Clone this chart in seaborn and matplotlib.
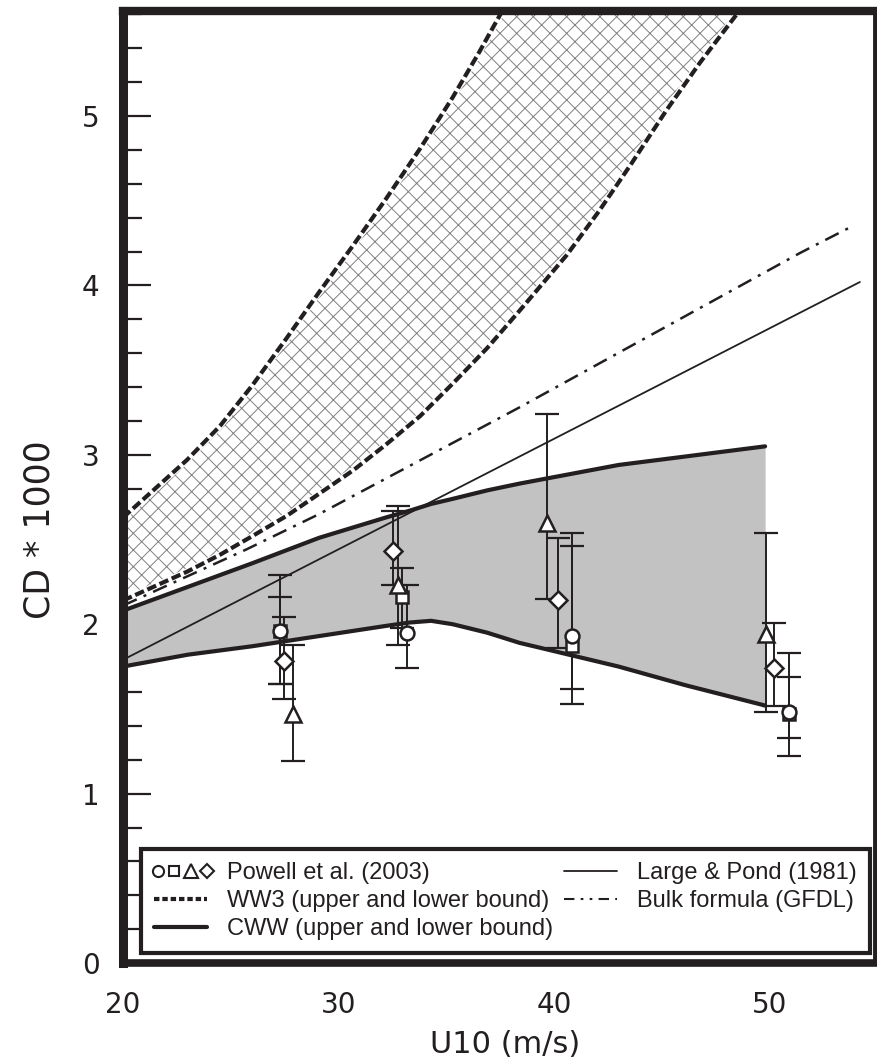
import numpy as np
import pandas as pd
import matplotlib
matplotlib.use("Agg")
import matplotlib.pyplot as plt
import seaborn as sns
from matplotlib.lines import Line2D
from matplotlib.legend_handler import HandlerBase
from matplotlib.ticker import MultipleLocator

# ---------------- data ----------------
ww3_up_x = [20.0, 21.4, 22.97, 24.5, 26.0, 27.6, 29.1, 30.7, 32.2, 33.8, 35.3, 36.5, 37.6]
ww3_up_y = [2.63, 2.79, 2.97, 3.17, 3.41, 3.69, 3.96, 4.24, 4.51, 4.81, 5.11, 5.37, 5.62]

ww3_lo_x = [20.0, 21.4, 22.97, 24.5, 26.0, 27.6, 29.1, 30.7, 32.2, 33.8, 35.3, 36.9, 38.4,
            40.6, 42.1, 43.6, 45.2, 46.75, 48.6]
ww3_lo_y = [2.14, 2.22, 2.31, 2.41, 2.52, 2.64, 2.77, 2.91, 3.06, 3.23, 3.42, 3.63, 3.85,
            4.18, 4.44, 4.72, 5.03, 5.31, 5.62]

gfdl_x = [20.0, 25.7, 29.1, 32.2, 35.3, 38.4, 51.4, 53.7]
gfdl_y = [2.11, 2.44, 2.65, 2.86, 3.07, 3.28, 4.19, 4.34]

lp_x = [20.0, 54.2]
lp_y = [1.79, 4.02]

cww_x = [20.0, 23.0, 26.0, 29.1, 32.2, 33.3, 34.3, 35.3, 36.9, 38.4, 43.0, 46.1, 49.8]
cww_up = [2.08, 2.22, 2.36, 2.51, 2.63, 2.67, 2.71, 2.74, 2.79, 2.83, 2.94, 2.99, 3.05]
cww_lo = [1.75, 1.82, 1.87, 1.93, 1.99, 2.01, 2.02, 2.00, 1.95, 1.89, 1.75, 1.64, 1.52]

# Powell et al. (2003): x, value, lower bar end, upper bar end
circ_x = [27.28, 33.16, 40.82, 50.92]
circ_y = [1.96, 1.95, 1.93, 1.48]
circ_lo = [1.65, 1.74, 1.62, 1.33]
circ_hi = [2.29, 2.23, 2.46, 1.69]

sq_x = [27.30, 32.93, 40.82, 50.92]
sq_y = [1.96, 2.16, 1.87, 1.47]
sq_lo = [1.65, 1.98, 1.53, 1.22]
sq_hi = [2.16, 2.33, 2.54, 1.83]

tri_x = [27.88, 32.75, 39.70, 49.86]
tri_y = [1.47, 2.23, 2.60, 1.94]
tri_lo = [1.19, 1.88, 2.15, 1.48]
tri_hi = [1.88, 2.70, 3.24, 2.54]

dia_x = [27.46, 32.52, 40.21, 50.23]
dia_y = [1.78, 2.43, 2.14, 1.74]
dia_lo = [1.56, 2.23, 1.86, 1.52]
dia_hi = [2.04, 2.67, 2.51, 2.01]

x_ticks = [20, 30, 40, 50]
y_ticks = [0, 1, 2, 3, 4, 5]

# ---------------- style ----------------
sns.set_theme(style="white")
INK = "#231f20"
plt.rcParams["font.family"] = ["DejaVu Sans"]
plt.rcParams["hatch.linewidth"] = 0.7

fig = plt.figure(figsize=(8.77, 10.64), dpi=100)
ax = fig.add_axes([0.1403, 0.0949, 0.8574, 0.8948])
ax.set_facecolor("white")

# WW3 hatched band
poly_x = np.concatenate([ww3_lo_x, ww3_up_x[::-1]])
poly_y = np.concatenate([ww3_lo_y, ww3_up_y[::-1]])
ax.fill(poly_x, poly_y, facecolor="white", edgecolor="#808080", hatch="xx",
        linewidth=0, zorder=1)

# CWW gray band
ax.fill_between(cww_x, cww_lo, cww_up, color="#c2c2c2", linewidth=0, zorder=2)

# lines via seaborn
df_up = pd.DataFrame({"u": ww3_up_x, "cd": ww3_up_y})
df_lo = pd.DataFrame({"u": ww3_lo_x, "cd": ww3_lo_y})
for d in (df_up, df_lo):
    sns.lineplot(data=d, x="u", y="cd", ax=ax, color="white", lw=4.6, zorder=3)
    sns.lineplot(data=d, x="u", y="cd", ax=ax, color=INK, lw=3.0,
                 linestyle=(0, (2.3, 0.9)), zorder=4)

sns.lineplot(x=gfdl_x, y=gfdl_y, ax=ax, color=INK, lw=1.8,
             linestyle=(0, (6, 3, 1.2, 3)), zorder=4)
sns.lineplot(x=lp_x, y=lp_y, ax=ax, color=INK, lw=1.3, zorder=4)
sns.lineplot(x=cww_x, y=cww_up, ax=ax, color=INK, lw=3.0, zorder=5)
sns.lineplot(x=cww_x, y=cww_lo, ax=ax, color=INK, lw=3.0, zorder=5)

# Powell et al. data with error bars
series = [
    (sq_x, sq_y, sq_lo, sq_hi, "s", 8.5),
    (circ_x, circ_y, circ_lo, circ_hi, "o", 10),
    (tri_x, tri_y, tri_lo, tri_hi, "^", 11),
    (dia_x, dia_y, dia_lo, dia_hi, "D", 9),
]
for xs, ys, lo, hi, mk, ms in series:
    ys = np.asarray(ys)
    yerr = [ys - np.asarray(lo), np.asarray(hi) - ys]
    ax.errorbar(xs, ys, yerr=yerr, fmt="none", ecolor=INK, elinewidth=1.4,
                capsize=8.5, capthick=1.6, zorder=6)
for xs, ys, lo, hi, mk, ms in series:
    ax.plot(xs, ys, linestyle="none", marker=mk, ms=ms, mfc="white", mec=INK,
            mew=1.8, zorder=7)

# axes
ax.set_xlim(20, 54.9)
ax.set_ylim(0, 5.62)
ax.set_xticks(x_ticks)
ax.set_xticklabels([str(v) for v in x_ticks])
ax.set_yticks(y_ticks)
ax.set_yticklabels([str(v) for v in y_ticks])
ax.yaxis.set_minor_locator(MultipleLocator(0.2))
ax.tick_params(axis="y", which="major", direction="in", length=20, width=1.6,
               color=INK, labelsize=20, pad=17, labelcolor=INK, left=True)
ax.tick_params(axis="y", which="minor", direction="in", length=14, width=1.6,
               color=INK, left=True)
ax.tick_params(axis="x", which="both", length=0, labelsize=20, pad=20, labelcolor=INK)

for side, lw in (("left", 6.5), ("bottom", 5.5), ("top", 6.0), ("right", 3.5)):
    ax.spines[side].set_visible(True)
    ax.spines[side].set_color(INK)
    ax.spines[side].set_linewidth(lw)
    ax.spines[side].set_zorder(10)

ax.set_xlabel("U10 (m/s)", fontsize=22, color=INK, va="center")
ax.set_ylabel("CD * 1000", fontsize=25, color=INK)
ax.xaxis.set_label_coords(0.508, -0.086)
ax.yaxis.set_label_coords(-0.088, 0.455)


# legend
class MarkerRow(HandlerBase):
    """Draws a row of open markers spread over the handle box."""
    def create_artists(self, legend, orig_handle, xdescent, ydescent, width,
                       height, fontsize, trans):
        n = len(orig_handle)
        xs = np.linspace(0.07 * width, 1.0 * width, n) - xdescent
        y = height / 2.0 - ydescent
        arts = []
        for x, h in zip(xs, orig_handle):
            arts.append(Line2D([x], [y], linestyle="none", marker=h.get_marker(),
                               ms=h.get_markersize(), mfc="white", mec=INK,
                               mew=1.5, transform=trans))
        return arts


class MarkerSet(tuple):
    pass


def mk(m, ms):
    return Line2D([], [], linestyle="none", marker=m, ms=ms)


h_powell = MarkerSet((mk("o", 8), mk("s", 7.5), mk("^", 9.5), mk("D", 7.5)))
h_ww3 = Line2D([], [], color=INK, lw=3.0, linestyle=(0, (1.3, 0.7)))
h_cww = Line2D([], [], color=INK, lw=3.0)
h_lp = Line2D([], [], color=INK, lw=1.3)
h_gfdl = Line2D([], [], color=INK, lw=1.5, linestyle=(0, (5, 3, 1.3, 3, 1.3, 3)))

leg = ax.legend([h_powell, h_ww3, h_cww, h_lp, h_gfdl],
                ["Powell et al. (2003)", "WW3 (upper and lower bound)",
                 "CWW (upper and lower bound)", "Large & Pond (1981)",
                 "Bulk formula (GFDL)"],
                handler_map={MarkerSet: MarkerRow()},
                ncol=2, loc="lower left", mode="expand",
                bbox_to_anchor=(0.024, 0.0105, 0.969, 0.112), borderaxespad=0,
                prop={"family": ["Liberation Sans"], "size": 17},
                handlelength=2.25, handletextpad=0.85, labelspacing=0.25,
                borderpad=0.55, columnspacing=0.8, fancybox=False, frameon=True)
leg.get_frame().set_edgecolor(INK)
leg.get_frame().set_linewidth(3.0)
leg.get_frame().set_facecolor("white")
leg.get_frame().set_alpha(1)
leg.set_zorder(9)
for t in leg.get_texts():
    t.set_color(INK)

fig.savefig("out.png", dpi=100, facecolor="white")
